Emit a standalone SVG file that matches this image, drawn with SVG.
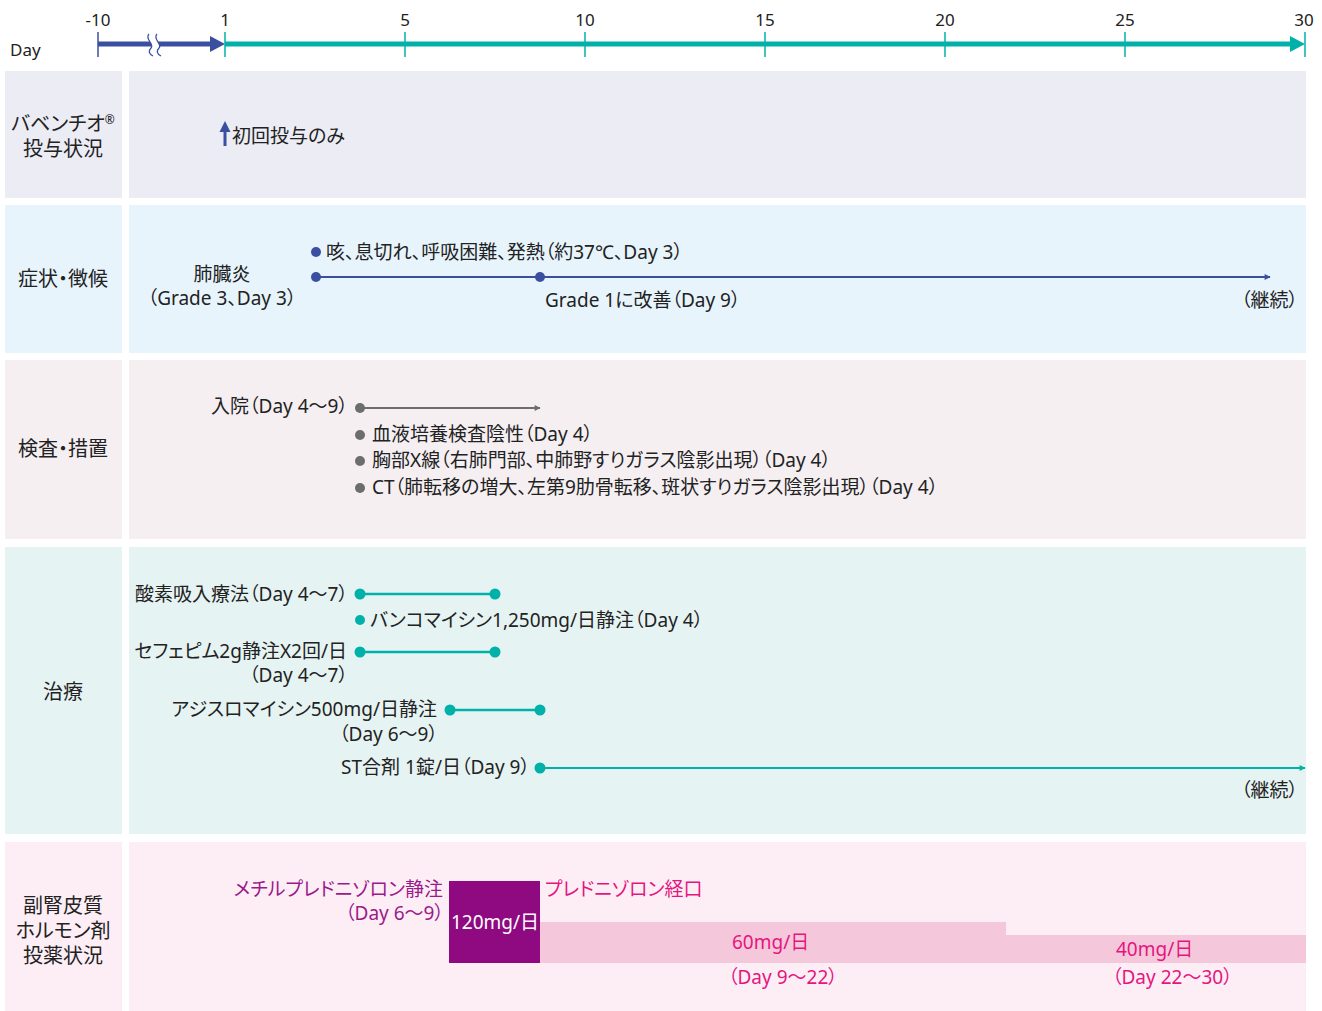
<svg xmlns="http://www.w3.org/2000/svg" width="1322" height="1011" viewBox="0 0 1322 1011">
<defs>
<style>
text{font-family:"Noto Sans","Noto Sans CJK JP",sans-serif;font-size:19px;fill:#222;font-feature-settings:"palt";}
.ax{font-size:17px;}
.lab{font-size:20px;text-anchor:middle;}
.m{text-anchor:middle;}
.e{text-anchor:end;}
.pu{fill:#9b1a8a;}
.mg{fill:#e5157f;}
.wh{fill:#ffffff;}
.blue{stroke:#3b4fa1;fill:none;}
.teal{stroke:#00b1aa;fill:none;}
.gray{stroke:#6d6d6d;fill:none;}
</style>
<marker id="ab" viewBox="0 0 10 10" refX="9" refY="5" markerWidth="9" markerHeight="6" markerUnits="userSpaceOnUse" orient="auto"><path d="M0,0L10,5L0,10z" fill="#3b4fa1"/></marker>
<marker id="ag" viewBox="0 0 10 10" refX="9" refY="5" markerWidth="9" markerHeight="6" markerUnits="userSpaceOnUse" orient="auto"><path d="M0,0L10,5L0,10z" fill="#6d6d6d"/></marker>
<marker id="at" viewBox="0 0 10 10" refX="9" refY="5" markerWidth="9" markerHeight="6" markerUnits="userSpaceOnUse" orient="auto"><path d="M0,0L10,5L0,10z" fill="#00b1aa"/></marker>
</defs>
<rect width="1322" height="1011" fill="#ffffff"/>

<g id="axis">
<text class="ax" x="10" y="56">Day</text>
<text class="ax m" x="98" y="26">-10</text>
<text class="ax m" x="225" y="26">1</text>
<text class="ax m" x="405" y="26">5</text>
<text class="ax m" x="585" y="26">10</text>
<text class="ax m" x="765" y="26">15</text>
<text class="ax m" x="945" y="26">20</text>
<text class="ax m" x="1125" y="26">25</text>
<text class="ax m" x="1304" y="26">30</text>
<line class="blue" x1="98" y1="32" x2="98" y2="57" stroke-width="1.5"/>
<line class="blue" x1="98" y1="44" x2="212" y2="44" stroke-width="5"/>
<path d="M210,36L225,44L210,52z" fill="#3b4fa1"/>
<path d="M149,34C144,39 155,44 151,48C148,51 149,54 153,56L161,56C157,54 156,51 159,48C163,44 152,39 157,34z" fill="#ffffff"/>
<path d="M149,34C144,39 155,44 151,48C148,51 149,54 153,56" class="blue" stroke-width="1.3"/>
<path d="M157,34C152,39 163,44 159,48C156,51 157,54 161,56" class="blue" stroke-width="1.3"/>
<line class="teal" x1="225" y1="44" x2="1292" y2="44" stroke-width="5"/>
<path d="M1290,36L1305,44L1290,52z" fill="#00b1aa"/>
<g class="teal" stroke-width="1.5">
<line x1="225" y1="32" x2="225" y2="57"/>
<line x1="405" y1="32" x2="405" y2="57"/>
<line x1="585" y1="32" x2="585" y2="57"/>
<line x1="765" y1="32" x2="765" y2="57"/>
<line x1="945" y1="32" x2="945" y2="57"/>
<line x1="1125" y1="32" x2="1125" y2="57"/>
<line x1="1305" y1="32" x2="1305" y2="57"/>
</g>
</g>

<g id="row1">
<rect x="5" y="71" width="117" height="127" fill="#ececf5"/>
<rect x="129" y="71" width="1177" height="127" fill="#ececf5"/>
<text class="lab" x="63" y="131">バベンチオ<tspan font-size="12" dy="-7">®</tspan></text>
<text class="lab" x="63" y="156">投与状況</text>
<path d="M225,146L225,130" stroke="#3b4fa1" stroke-width="3"/>
<path d="M219.5,132L225,121L230.5,132z" fill="#3b4fa1"/>
<text x="232" y="143">初回投与のみ</text>
</g>

<g id="row2">
<rect x="5" y="205" width="117" height="148" fill="#e7f4fc"/>
<rect x="129" y="205" width="1177" height="148" fill="#e7f4fc"/>
<text class="lab" x="63" y="286">症状・徴候</text>
<text class="m" x="222" y="281">肺臓炎</text>
<text class="m" x="222" y="305">（Grade 3、Day 3）</text>
<circle cx="316" cy="252" r="5" fill="#3b4fa1"/>
<text x="326" y="259">咳、息切れ、呼吸困難、発熱（約37℃、Day 3）</text>
<text x="545" y="307">Grade 1に改善（Day 9）</text>
<text class="e" x="1298" y="307">（継続）</text>
</g>

<g id="row3">
<rect x="5" y="360" width="117" height="179" fill="#f5eff2"/>
<rect x="129" y="360" width="1177" height="179" fill="#f5eff2"/>
<text class="lab" x="63" y="456">検査・措置</text>
<text class="e" x="348" y="413">入院（Day 4〜9）</text>
<circle cx="360" cy="435" r="5" fill="#6d6d6d"/>
<circle cx="360" cy="461" r="5" fill="#6d6d6d"/>
<circle cx="360" cy="488" r="5" fill="#6d6d6d"/>
<text x="372" y="441">血液培養検査陰性（Day 4）</text>
<text x="372" y="467">胸部X線（右肺門部、中肺野すりガラス陰影出現）（Day 4）</text>
<text x="372" y="494">CT（肺転移の増大、左第9肋骨転移、斑状すりガラス陰影出現）（Day 4）</text>
</g>

<g id="row4">
<rect x="5" y="547" width="117" height="287" fill="#e6f3f3"/>
<rect x="129" y="547" width="1177" height="287" fill="#e6f3f3"/>
<text class="lab" x="63" y="699">治療</text>
<text class="e" x="348" y="601">酸素吸入療法（Day 4〜7）</text>
<circle cx="360" cy="620" r="5" fill="#00b1aa"/>
<text x="370" y="627">バンコマイシン1,250mg/日静注（Day 4）</text>
<text class="e" x="347" y="658">セフェピム2g静注X2回/日</text>
<text class="e" x="348" y="682">（Day 4〜7）</text>
<text class="e" x="437" y="716">アジスロマイシン500mg/日静注</text>
<text class="e" x="438" y="741">（Day 6〜9）</text>
<text class="e" x="530" y="774">ST合剤 1錠/日（Day 9）</text>
<text class="e" x="1298" y="797">（継続）</text>
</g>

<g id="row5">
<rect x="5" y="842" width="117" height="169" fill="#fdeef6"/>
<rect x="129" y="842" width="1177" height="169" fill="#fdeef6"/>
<text class="lab" x="63" y="913">副腎皮質</text>
<text class="lab" x="63" y="938">ホルモン剤</text>
<text class="lab" x="63" y="963">投薬状況</text>
<rect x="540" y="922" width="466" height="41" fill="#f5c7da"/>
<rect x="1006" y="935" width="300" height="28" fill="#f5c7da"/>
<rect x="449" y="881" width="91" height="82" fill="#8f0a80"/>
<text class="m wh" x="495" y="929">120mg/日</text>
<text class="e pu" x="443" y="896">メチルプレドニゾロン静注</text>
<text class="e pu" x="444" y="920">（Day 6〜9）</text>
<text class="mg" x="545" y="896">プレドニゾロン経口</text>
<text class="mg" x="732" y="949">60mg/日</text>
<text class="mg" x="728" y="984">（Day 9〜22）</text>
<text class="mg" x="1116" y="956">40mg/日</text>
<text class="mg" x="1112" y="984">（Day 22〜30）</text>
</g>

<g id="connectors">
<line class="blue" x1="316" y1="277" x2="1270" y2="277" stroke-width="2" marker-end="url(#ab)"/>
<circle cx="316" cy="277" r="5" fill="#3b4fa1"/>
<circle cx="540" cy="277" r="5" fill="#3b4fa1"/>
<line class="gray" x1="360" y1="408" x2="540" y2="408" stroke-width="2" marker-end="url(#ag)"/>
<circle cx="360" cy="408" r="5" fill="#6d6d6d"/>
<line class="teal" x1="360" y1="594" x2="495" y2="594" stroke-width="2.5"/>
<circle cx="360" cy="594" r="5.5" fill="#00b1aa"/>
<circle cx="495" cy="594" r="5.5" fill="#00b1aa"/>
<line class="teal" x1="360" y1="652" x2="495" y2="652" stroke-width="2.5"/>
<circle cx="360" cy="652" r="5.5" fill="#00b1aa"/>
<circle cx="495" cy="652" r="5.5" fill="#00b1aa"/>
<line class="teal" x1="450" y1="710" x2="540" y2="710" stroke-width="2.5"/>
<circle cx="450" cy="710" r="5.5" fill="#00b1aa"/>
<circle cx="540" cy="710" r="5.5" fill="#00b1aa"/>
<line class="teal" x1="540" y1="768" x2="1305" y2="768" stroke-width="2" marker-end="url(#at)"/>
<circle cx="540" cy="768" r="5.5" fill="#00b1aa"/>
</g>
</svg>
